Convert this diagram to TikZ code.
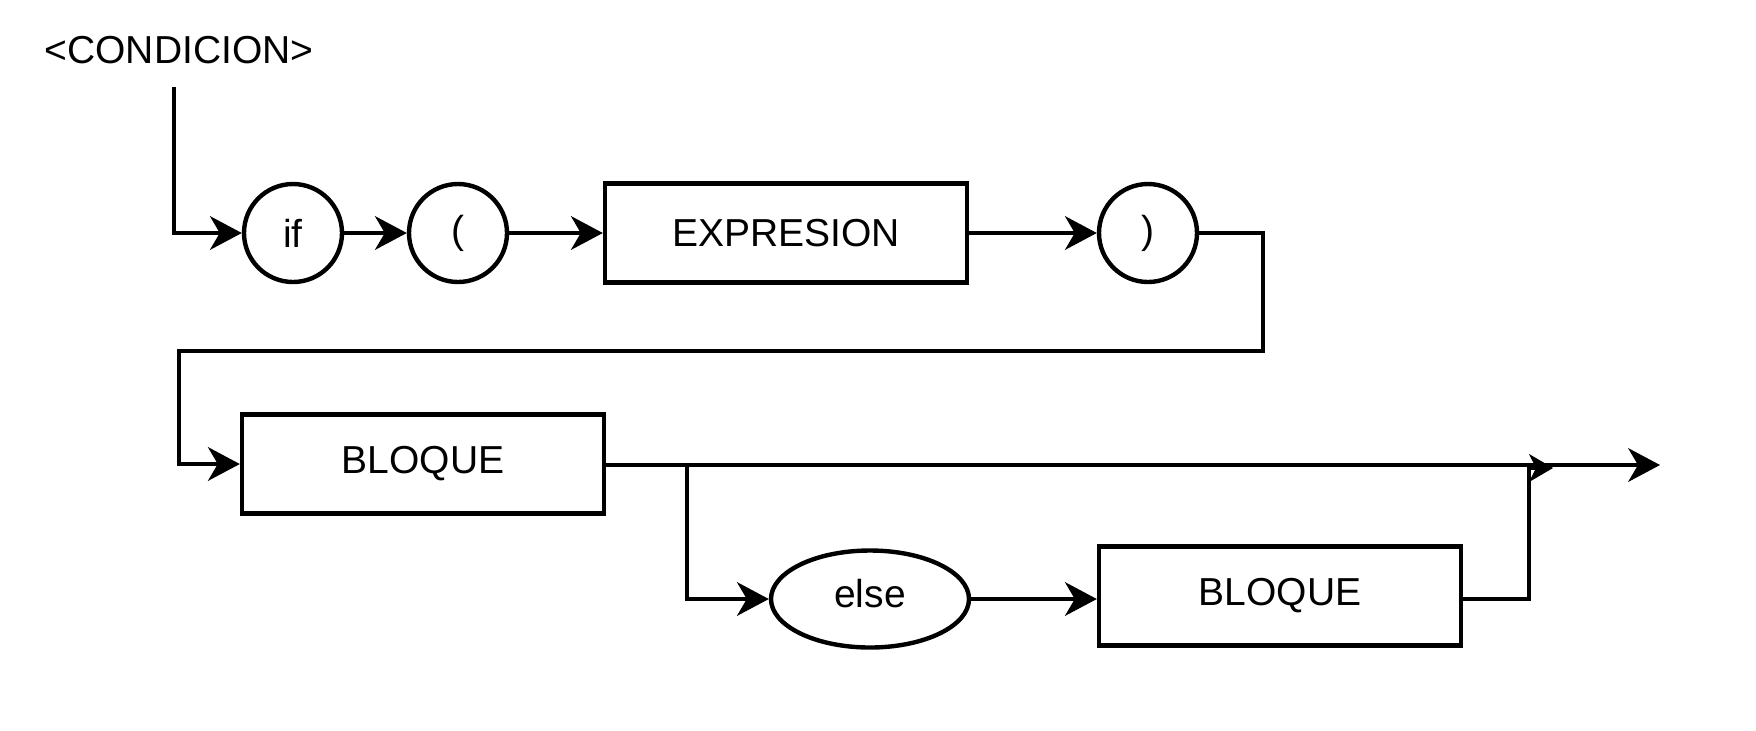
\documentclass[tikz,border=0pt]{standalone}
\usepackage{fontspec}
\setmainfont{Liberation Sans}
\usetikzlibrary{arrows.meta,shapes.geometric}
\begin{document}
\begin{tikzpicture}[x=0.5pt,y=-0.5pt,
  line width=2.2pt,
  txt/.style={font=\fontsize{19.5}{23}\selectfont},
  term/.style={circle,draw,minimum size=49pt,inner sep=0pt,txt},
  nonterm/.style={rectangle,draw,minimum width=181pt,minimum height=49.5pt,inner sep=0pt,txt},
  ell/.style={ellipse,draw,minimum width=99pt,minimum height=48.5pt,inner sep=0pt,txt,text depth=5.6pt},
  arr/.style={-{Stealth[length=16pt,width=17pt,inset=5pt,line width=0.6pt]}},
  smallarr/.style={-{Stealth[length=12pt,width=14pt,inset=3.5pt,line width=0.5pt]}}
]
\useasboundingbox (0,0) rectangle (1756,730);
\node[txt] (cond) at (179,50) {<CONDICION>};
\node[term] (if) at (293,233) {if};
\node[term] (lp) at (458,233) {(};
\node[nonterm] (expr) at (786,233) {EXPRESION};
\node[term] (rp) at (1148,233) {)};
\node[nonterm] (b1) at (423,464) {BLOQUE};
\node[ell] (else) at (870,599) {else};
\node[nonterm] (b2) at (1280,596) {BLOQUE};

\coordinate (s) at (174,87);
\coordinate (r1) at (1263,233);
\coordinate (r2) at (1263,351);
\coordinate (r3) at (179,351);
\coordinate (br) at (687,465);
\coordinate (end) at (1660,465);
\coordinate (m) at (1529,468);
\coordinate (m2) at (1553,468);

\draw[arr] (s) |- (if.west);
\draw[arr] (if) -- (lp);
\draw[arr] (lp) -- (expr);
\draw[arr] (expr) -- (rp);
\draw[arr] (rp.east) -- (r1) -- (r2) -- (r3) |- (b1.west);
\draw[arr] (b1.east |- end) -- (end);
\draw[arr] (br) |- (else.west);
\draw[arr] (else.east) -- (else.east -| b2.west);
\draw[smallarr] (else.east -| b2.east) -| (m) -- (m2);
\end{tikzpicture}
\end{document}
